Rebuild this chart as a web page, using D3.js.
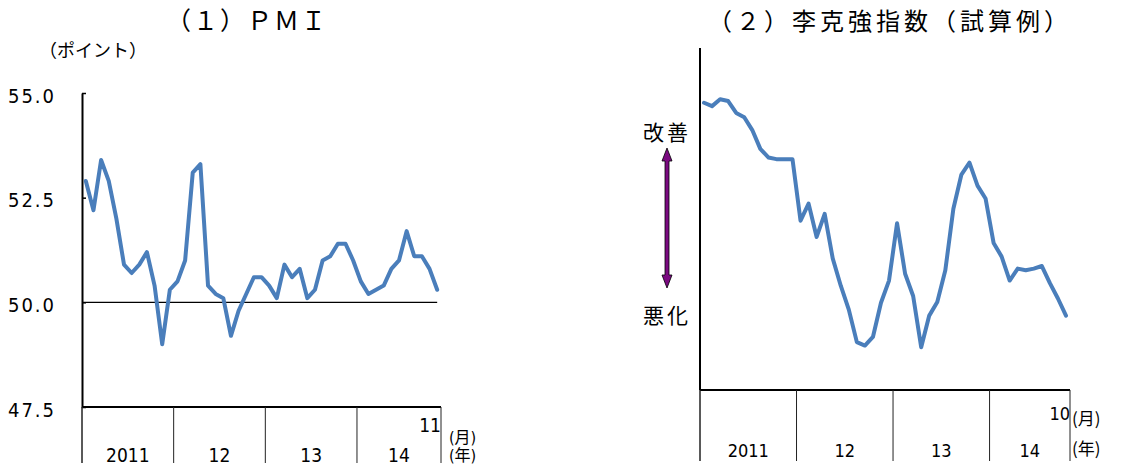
<!DOCTYPE html>
<html>
<head>
<meta charset="utf-8">
<script src="https://cdn.jsdelivr.net/npm/d3@7"></script>
<style>
  body { margin: 0; background: #fff; }
  svg { display: block; }
</style>
</head>
<body>
<div id="chart"></div>
<script>
const width = 1123;
const height = 469;

// year blocks along the x axis (label, number of months)
const pmiYears = ["2011", "12", "13", "14"];
const pmiYearMonths = [12, 12, 12, 11];
const likYears = ["2011", "12", "13", "14"];
const likYearMonths = [12, 12, 12, 10];

// (1) PMI, 2011/01 - 2014/11
const pmiValues = [
  52.9, 52.2, 53.4, 52.9, 52.0, 50.9, 50.7, 50.9, 51.2, 50.4, 49.0, 50.3,
  50.5, 51.0, 53.1, 53.3, 50.4, 50.2, 50.1, 49.2, 49.8, 50.2, 50.6, 50.6,
  50.4, 50.1, 50.9, 50.6, 50.8, 50.1, 50.3, 51.0, 51.1, 51.4, 51.4, 51.0,
  50.5, 50.2, 50.3, 50.4, 50.8, 51.0, 51.7, 51.1, 51.1, 50.8, 50.3
];
const pmiTicks = [47.5, 50.0, 52.5, 55.0];

// (2) Li Keqiang index (trial calc), 2011/01 - 2014/10, no scale shown
const likValues = [
  16.8, 16.6, 17.0, 16.9, 16.2, 15.95, 15.2, 14.1, 13.6, 13.5, 13.5, 13.5,
  9.9, 10.9, 8.95, 10.3, 7.7, 6.1, 4.7, 2.8, 2.6, 3.1, 5.1, 6.4,
  9.75, 6.8, 5.5, 2.5, 4.35, 5.15, 7.0, 10.6, 12.6, 13.3, 11.95, 11.2,
  8.6, 7.8, 6.4, 7.1, 7.0, 7.1, 7.25, 6.25, 5.35, 4.35
];

const lineColor = "#4a7ebb";
const labelFont = '"Liberation Sans Narrow", "DejaVu Sans Condensed", "Noto Sans CJK JP", sans-serif';
const cjkFont = '"Noto Sans CJK JP", sans-serif';

const svg = d3.select("#chart")
  .append("svg")
  .attr("width", width)
  .attr("height", height)
  .attr("viewBox", `0 0 ${width} ${height}`);

// month keys for the band scales
const monthKeys = (years, counts) => {
  const keys = [];
  years.forEach((y, i) => {
    for (let m = 0; m < counts[i]; m++) keys.push(`${i}-${m}`);
  });
  return keys;
};

// x axis with year blocks below it
const drawYearAxis = (x, keys, years, counts, y0, y1, fontSize, baseline) => {
  const g = svg.append("g");
  const [r0, r1] = x.range();
  g.append("line")
    .attr("x1", r0).attr("x2", r1)
    .attr("y1", y0).attr("y2", y0)
    .attr("stroke", "#000").attr("stroke-width", 2);
  let idx = 0;
  const edges = [];
  counts.forEach((c) => {
    edges.push(x(keys[idx]));
    idx += c;
  });
  edges.push(r1);
  edges.forEach((ex) => {
    g.append("line")
      .attr("x1", ex).attr("x2", ex)
      .attr("y1", y0).attr("y2", y1)
      .attr("stroke", "#222").attr("stroke-width", 1);
  });
  years.forEach((y, i) => {
    g.append("text")
      .attr("x", (edges[i] + edges[i + 1]) / 2)
      .attr("y", baseline)
      .attr("text-anchor", "middle")
      .style("font-family", labelFont)
      .style("font-size", fontSize + "px")
      .text(y);
  });
  return r1;
};

// (月)/(年) unit labels as one two-line text
const unitLabel = (x, yTop, gap, font, size) => {
  const t = svg.append("text")
    .attr("x", x).attr("y", yTop)
    .style("font-family", font)
    .style("font-size", size + "px");
  t.append("tspan").attr("x", x).text("(月)");
  t.append("tspan").attr("x", x).attr("dy", gap).text("(年)");
};

// ---------- (1) PMI ----------
const pmiKeys = monthKeys(pmiYears, pmiYearMonths);
const x1 = d3.scaleBand().domain(pmiKeys).range([82, 441]);
const y1 = d3.scaleLinear().domain([47.5, 55]).range([407, 93]);
const cx1 = (k) => x1(k) + x1.bandwidth() / 2;

svg.append("text")
  .attr("x", 247).attr("y", 30)
  .attr("text-anchor", "middle")
  .style("font-family", cjkFont)
  .style("font-size", "25px")
  .style("letter-spacing", "2px")
  .text("（１）ＰＭＩ");

svg.append("text")
  .attr("x", 39).attr("y", 57)
  .style("font-family", cjkFont)
  .style("font-size", "18px")
  .text("（ポイント）");

const yAxis1 = svg.append("g")
  .attr("transform", "translate(82,0)")
  .call(d3.axisLeft(y1)
    .tickValues(pmiTicks)
    .tickSize(-4)
    .tickSizeOuter(0)
    .tickPadding(26)
    .tickFormat(d3.format(".1f")));
yAxis1.select(".domain").attr("stroke-width", 2);
yAxis1.selectAll(".tick line").attr("stroke-width", 1.5);
yAxis1.selectAll("text")
  .attr("dy", "0.45em")
  .style("font-family", labelFont)
  .style("font-size", "20px")
  .style("letter-spacing", "2px");

// 50 line
svg.append("line")
  .attr("x1", 82).attr("x2", cx1(pmiKeys[pmiKeys.length - 1]))
  .attr("y1", y1(50)).attr("y2", y1(50))
  .attr("stroke", "#000").attr("stroke-width", 1.2);

const end1 = drawYearAxis(x1, pmiKeys, pmiYears, pmiYearMonths, 407, 463, 19, 462);
svg.append("line")
  .attr("x1", 82).attr("x2", 82).attr("y1", 407).attr("y2", 463)
  .attr("stroke", "#222");

svg.append("path")
  .datum(pmiValues)
  .attr("fill", "none")
  .attr("stroke", lineColor)
  .attr("stroke-width", 4)
  .attr("stroke-linejoin", "round")
  .attr("stroke-linecap", "round")
  .attr("d", d3.line().x((d, i) => cx1(pmiKeys[i])).y((d) => y1(d)));

svg.append("text")
  .attr("x", end1).attr("y", 432)
  .attr("text-anchor", "end")
  .style("font-family", labelFont)
  .style("font-size", "19px")
  .text("11");
unitLabel(end1 + 8, 443, 18, labelFont, 16);

// ---------- (2) Li Keqiang index ----------
const likKeys = monthKeys(likYears, likYearMonths);
const x2 = d3.scaleBand().domain(likKeys).range([700, 1070]);
const y2 = d3.scaleLinear().domain([0, 20]).range([390, 48]);
const cx2 = (k) => x2(k) + x2.bandwidth() / 2;

svg.append("text")
  .attr("x", 890).attr("y", 30)
  .attr("text-anchor", "middle")
  .style("font-family", cjkFont)
  .style("font-size", "24px")
  .style("letter-spacing", "4px")
  .text("（２）李克強指数（試算例）");

svg.append("line")
  .attr("x1", 700).attr("x2", 700).attr("y1", 48).attr("y2", 390)
  .attr("stroke", "#000").attr("stroke-width", 2);
svg.append("line")
  .attr("x1", 700).attr("x2", 700).attr("y1", 390).attr("y2", 461)
  .attr("stroke", "#222");

const end2 = drawYearAxis(x2, likKeys, likYears, likYearMonths, 390, 461, 18, 457);

svg.append("path")
  .datum(likValues)
  .attr("fill", "none")
  .attr("stroke", lineColor)
  .attr("stroke-width", 4)
  .attr("stroke-linejoin", "round")
  .attr("stroke-linecap", "round")
  .attr("d", d3.line().x((d, i) => cx2(likKeys[i])).y((d) => y2(d)));

svg.append("text")
  .attr("x", end2).attr("y", 420)
  .attr("text-anchor", "end")
  .style("font-family", labelFont)
  .style("font-size", "18px")
  .text("10");
unitLabel(end2 + 2, 425, 30, cjkFont, 17);

// improve / worsen arrow
svg.append("text")
  .attr("x", 667).attr("y", 140)
  .attr("text-anchor", "middle")
  .style("font-family", cjkFont)
  .style("font-size", "21px")
  .style("letter-spacing", "3px")
  .text("改善");
svg.append("text")
  .attr("x", 667).attr("y", 323)
  .attr("text-anchor", "middle")
  .style("font-family", cjkFont)
  .style("font-size", "21px")
  .style("letter-spacing", "3px")
  .text("悪化");

const ax = 667, aTop = 148, aBot = 288;
svg.append("path")
  .attr("d", `M${ax},${aTop} L${ax + 5},${aTop + 13} L${ax + 2},${aTop + 13}
    L${ax + 2},${aBot - 13} L${ax + 5},${aBot - 13} L${ax},${aBot}
    L${ax - 5},${aBot - 13} L${ax - 2},${aBot - 13} L${ax - 2},${aTop + 13}
    L${ax - 5},${aTop + 13} Z`)
  .attr("fill", "#7a0a80")
  .attr("stroke", "#000")
  .attr("stroke-width", 0.8);
</script>
</body>
</html>
